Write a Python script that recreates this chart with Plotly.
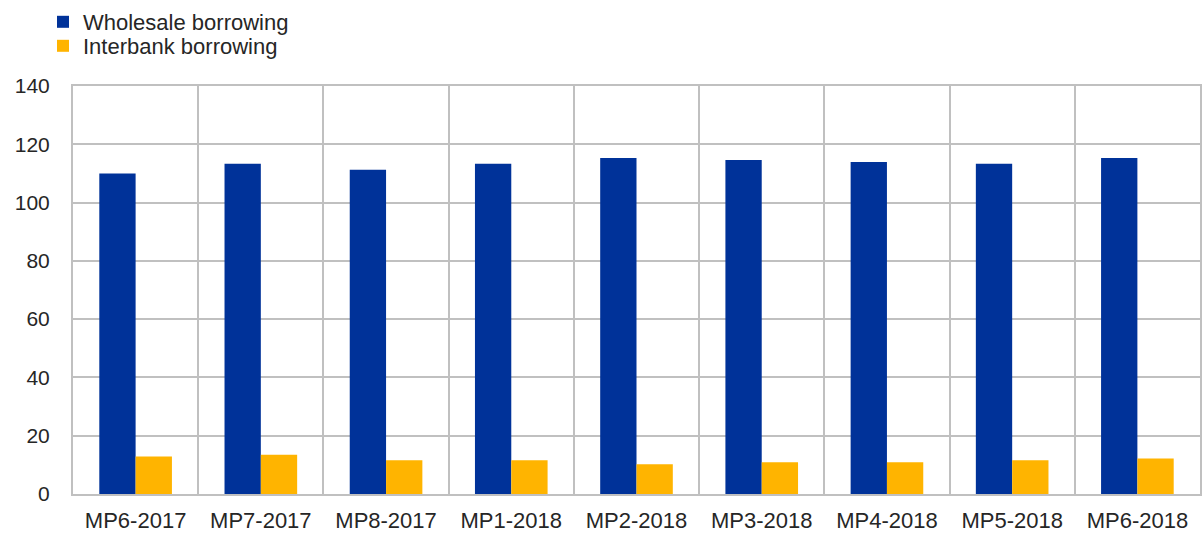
import plotly.graph_objects as go

categories = ["MP6-2017", "MP7-2017", "MP8-2017", "MP1-2018", "MP2-2018",
              "MP3-2018", "MP4-2018", "MP5-2018", "MP6-2018"]
wholesale = [110.0, 113.3, 111.3, 113.3, 115.3, 114.6, 113.9, 113.3, 115.3]
interbank = [12.9, 13.5, 11.6, 11.6, 10.2, 10.9, 10.9, 11.6, 12.2]

BLUE = "#003299"
ORANGE = "#FFB400"
GRID = "#C0C0C0"
TXT = "#262626"
FONT = "Liberation Sans, Arial, sans-serif"

fig = go.Figure()
fig.add_trace(go.Bar(name="Wholesale borrowing", x=categories, y=wholesale,
                     marker=dict(color=BLUE, line=dict(width=0)), legend="legend"))
fig.add_trace(go.Bar(name="Interbank borrowing", x=categories, y=interbank,
                     marker=dict(color=ORANGE, line=dict(width=0)), legend="legend2"))

leg_common = dict(xref="container", yref="container", xanchor="left",
                  yanchor="top", orientation="v", bgcolor="rgba(0,0,0,0)",
                  font=dict(size=22, color=TXT, family=FONT), itemwidth=30)

fig.update_layout(
    width=1202, height=533,
    margin=dict(l=73, r=2, t=86, b=39, autoexpand=False),
    paper_bgcolor="white", plot_bgcolor="white",
    barmode="group", bargap=0.42, bargroupgap=0,
    font=dict(family=FONT, size=21, color=TXT),
    showlegend=True,
    legend=dict(x=43 / 1202, y=1 - 1 / 533, **leg_common),
    legend2=dict(x=43 / 1202, y=1 - 25 / 533, **leg_common),
    xaxis=dict(type="category", showgrid=True, tickson="boundaries",
               gridcolor=GRID, gridwidth=2, showline=True, mirror=True,
               linecolor=GRID, linewidth=2, ticks="", ticklabelstandoff=6,
               automargin=False, tickfont=dict(size=22, color=TXT)),
    yaxis=dict(range=[0, 140], dtick=20, showgrid=True, gridcolor=GRID,
               gridwidth=2, showline=True, mirror=True, linecolor=GRID,
               linewidth=2, ticks="", ticklabelstandoff=17, zeroline=False,
               automargin=False, tickfont=dict(size=21, color=TXT)),
)

fig.write_html("out.html",
               config={"displayModeBar": False},
               post_script="document.body.style.margin='0';document.body.style.padding='0';")
